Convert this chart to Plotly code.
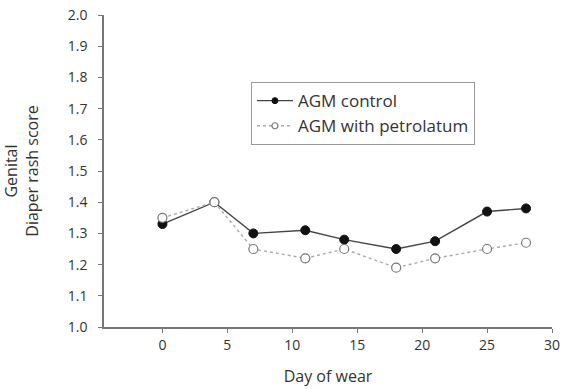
import plotly.graph_objects as go

# Day of wear and mean genital diaper rash scores
days = [0, 4, 7, 11, 14, 18, 21, 25, 28]
agm_control = [1.33, 1.40, 1.30, 1.31, 1.28, 1.25, 1.275, 1.37, 1.38]
agm_petrolatum = [1.35, 1.40, 1.25, 1.22, 1.25, 1.19, 1.22, 1.25, 1.27]

x_ticks = [0, 5, 10, 15, 20, 25, 30]
y_ticks = [1.0, 1.1, 1.2, 1.3, 1.4, 1.5, 1.6, 1.7, 1.8, 1.9, 2.0]

FONT = "Open Sans, sans-serif"
TEXT = "#333333"
AXIS = "#777777"

control_line = dict(color="#444444", width=1.4)
control_marker = dict(symbol="circle", color="#111111", line=dict(color="#111111", width=1))
petro_line = dict(color="#aaaaaa", width=1.4, dash="dot")
petro_marker = dict(symbol="circle", color="white", line=dict(color="#777777", width=1.2))

fig = go.Figure()
fig.add_trace(go.Scatter(
    x=days, y=agm_control, name="AGM control", mode="lines+markers",
    line=control_line, marker=dict(size=9, **control_marker), showlegend=False,
))
fig.add_trace(go.Scatter(
    x=days, y=agm_petrolatum, name="AGM with petrolatum", mode="lines+markers",
    line=petro_line, marker=dict(size=9, **petro_marker), showlegend=False,
))
# legend entries with smaller symbols
fig.add_trace(go.Scatter(
    x=[None], y=[None], name="AGM control", mode="lines+markers",
    line=control_line, marker=dict(size=6, **control_marker),
))
fig.add_trace(go.Scatter(
    x=[None], y=[None], name="AGM with petrolatum", mode="lines+markers",
    line=petro_line, marker=dict(size=6, **petro_marker),
))

fig.update_layout(
    width=566, height=389,
    margin=dict(l=104, r=14, t=15, b=62),
    paper_bgcolor="white", plot_bgcolor="white",
    font=dict(family=FONT, size=14, color=TEXT),
    showlegend=True,
    legend=dict(
        x=0.328, y=0.785, xanchor="left", yanchor="top",
        bordercolor="#999999", borderwidth=1, bgcolor="white",
        font=dict(family=FONT, size=17, color=TEXT),
        tracegroupgap=0, itemwidth=36,
    ),
    xaxis=dict(
        range=[-4.5, 30], tickvals=x_ticks, ticktext=[str(v) for v in x_ticks],
        showgrid=False, zeroline=False, showline=True, linecolor=AXIS, linewidth=1.5,
        ticks="outside", ticklen=4, tickcolor=AXIS, tickwidth=1, automargin=False,
        title=dict(text="Day of wear", standoff=18, font=dict(size=16, color=TEXT)),
    ),
    yaxis=dict(
        range=[1.0, 2.0], tickvals=y_ticks, ticktext=[f"{v:.1f}" for v in y_ticks],
        showgrid=False, zeroline=False, showline=True, linecolor=AXIS, linewidth=1.5,
        ticks="outside", ticklen=4, tickcolor=AXIS, tickwidth=1, automargin=False,
        ticklabelstandoff=8,
        title=dict(text="Genital<br>Diaper rash score", standoff=26,
                   font=dict(size=16, color=TEXT)),
    ),
)

fig.write_html("out.html")
